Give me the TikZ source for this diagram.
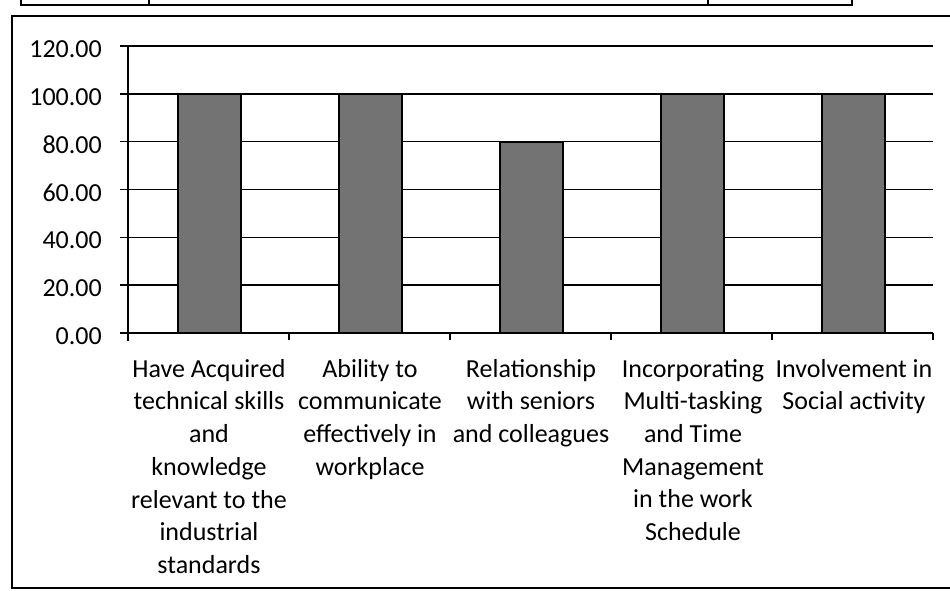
\documentclass[tikz,border=0pt]{standalone}
\usepackage{fontspec}
\setmainfont{Carlito}

\tikzset{
  gridline/.style={line width=1.4pt},
  barbox/.style={draw=black,line width=2pt,fill=black!55},
  ylab/.style={anchor=east,inner sep=0pt,font=\fontsize{26}{32.7}\selectfont},
  catlab/.style={anchor=north,align=center,inner sep=0pt,font=\fontsize{26}{32.7}\selectfont}
}

\begin{document}
\begin{tikzpicture}[x=1pt,y=-1pt]
    \useasboundingbox (0,0) rectangle (950,590);
    % bit of the table above
    \draw[line width=1.2pt] (21,-2) -- (21,5) -- (852,5) -- (852,-2);
    \draw[line width=1.2pt] (149,-2) -- (149,5);
    \draw[line width=1.2pt] (708,-2) -- (708,5);
    % frame
    \draw[line width=1.4pt] (960,16) -- (12,16) -- (12,588) -- (960,588);

    \foreach \v in {0,20,...,120} {
      \draw[gridline] (120,{333-2.392*\v}) -- (933,{333-2.392*\v});
      \node[ylab] (y\v) at (102,{336-2.392*\v}) {\v.00};
    }
    \draw[gridline] (128,46) -- (128,341);
    \foreach \k in {1,...,5} {
      \draw[gridline] ({128+161*\k},333) -- ++(0,7);
    }

    \foreach \i/\val in {0/100,1/100,2/80,3/100,4/100} {
      \draw[barbox] ({178+161*\i},333) rectangle ++(63,{-2.392*\val});
    }

    \node[catlab] (acq) at (209,359) {Have Acquired\\technical skills\\and\\knowledge\\relevant to the\\industrial\\standards};
    \node[catlab] (comm) at (370,359) {Ability to\\communicate\\effectively in\\workplace};
    \node[catlab] (rel) at (531,359) {Relationship\\with seniors\\and colleagues};
    \node[catlab] (multi) at (693,359) {Incorporating\\Multi-tasking\\and Time\\Management\\in the work\\Schedule};
    \node[catlab] (soc) at (854,359) {Involvement in\\Social activity};
\end{tikzpicture}
\end{document}
